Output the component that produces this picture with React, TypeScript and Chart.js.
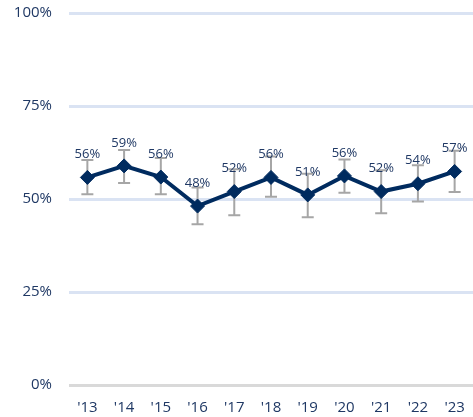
import React, { useEffect, useRef } from "react";
import { Chart, registerables } from "chart.js";

Chart.register(...registerables);

const categories = ["'13", "'14", "'15", "'16", "'17", "'18", "'19", "'20", "'21", "'22", "'23"];
const values = [55.8, 58.9, 55.9, 48.1, 52.0, 55.8, 51.1, 56.2, 52.0, 54.1, 57.4];
const valueLabels = ["56%", "59%", "56%", "48%", "52%", "56%", "51%", "56%", "52%", "54%", "57%"];
const lowerBounds = [51.3, 54.3, 51.3, 43.2, 45.6, 50.6, 45.1, 51.7, 46.2, 49.3, 51.9];
const upperBounds = [60.5, 63.2, 61.0, 53.1, 58.0, 61.4, 56.8, 60.6, 57.7, 59.1, 63.0];
const yTicks = [0, 25, 50, 75, 100];

const FONT = "'Open Sans'";
const TEXT = "#1f3864";
const NAVY = "#002b5f";

const errorBarPlugin = {
  id: "errorBars",
  beforeDatasetsDraw(chart: any) {
    const { ctx, scales } = chart;
    const meta = chart.getDatasetMeta(0);
    ctx.save();
    ctx.strokeStyle = "#a6a6a6";
    ctx.lineWidth = 2;
    meta.data.forEach((pt: any, i: number) => {
      const x = pt.x;
      const yt = scales.y.getPixelForValue(upperBounds[i]);
      const yb = scales.y.getPixelForValue(lowerBounds[i]);
      ctx.beginPath();
      ctx.moveTo(x, yt);
      ctx.lineTo(x, yb);
      ctx.moveTo(x - 6, yt);
      ctx.lineTo(x + 6, yt);
      ctx.moveTo(x - 6, yb);
      ctx.lineTo(x + 6, yb);
      ctx.stroke();
    });
    ctx.restore();
  },
};

const labelPlugin = {
  id: "valueLabels",
  afterDatasetsDraw(chart: any) {
    const { ctx } = chart;
    const meta = chart.getDatasetMeta(0);
    ctx.save();
    ctx.fillStyle = TEXT;
    ctx.font = `13px ${FONT}`;
    ctx.textAlign = "center";
    ctx.textBaseline = "middle";
    meta.data.forEach((pt: any, i: number) => {
      ctx.fillText(valueLabels[i], pt.x, pt.y - 23);
    });
    ctx.restore();
  },
};

export default function App() {
  const ref = useRef<HTMLCanvasElement>(null);
  useEffect(() => {
    const chart = new Chart(ref.current!, {
      type: "line",
      data: {
        labels: categories,
        datasets: [
          {
            data: values,
            borderColor: NAVY,
            backgroundColor: NAVY,
            borderWidth: 4,
            pointStyle: "rectRot",
            pointRadius: 7,
            pointHoverRadius: 7,
            pointBackgroundColor: NAVY,
            pointBorderColor: NAVY,
            pointBorderWidth: 1,
            tension: 0,
            clip: false,
          },
        ],
      },
      options: {
        responsive: true,
        maintainAspectRatio: false,
        animation: false,
        layout: { autoPadding: false, padding: { top: 13, right: 0, left: 0, bottom: 0 } },
        plugins: { legend: { display: false }, tooltip: { enabled: false } },
        scales: {
          x: {
            offset: true,
            grid: { display: false, drawTicks: false, offset: true },
            border: { display: false },
            ticks: { color: TEXT, font: { family: FONT, size: 15 }, padding: 14, maxRotation: 0 },
            afterFit: (s: any) => { s.height = 32; s.paddingLeft = 0; s.paddingRight = 0; },
          },
          y: {
            min: 0,
            max: 100,
            afterBuildTicks: (s: any) => { s.ticks = yTicks.map((v) => ({ value: v })); },
            grid: {
              drawTicks: false,
              lineWidth: 3,
              color: (c: any) => (c.tick && c.tick.value === 0 ? "#d9d9d9" : "#dae3f3"),
            },
            border: { display: false },
            ticks: {
              color: TEXT,
              font: { family: FONT, size: 15 },
              padding: 17,
              callback: (v: any) => v + "%",
            },
            afterFit: (s: any) => { s.width = 69; s.paddingTop = 0; s.paddingBottom = 0; },
          },
        },
      },
      plugins: [errorBarPlugin, labelPlugin],
    });
    return () => chart.destroy();
  }, []);
  return (
    <div style={{ position: "fixed", left: 0, top: 0, width: 473, height: 417 }}>
      <canvas ref={ref} />
    </div>
  );
}
